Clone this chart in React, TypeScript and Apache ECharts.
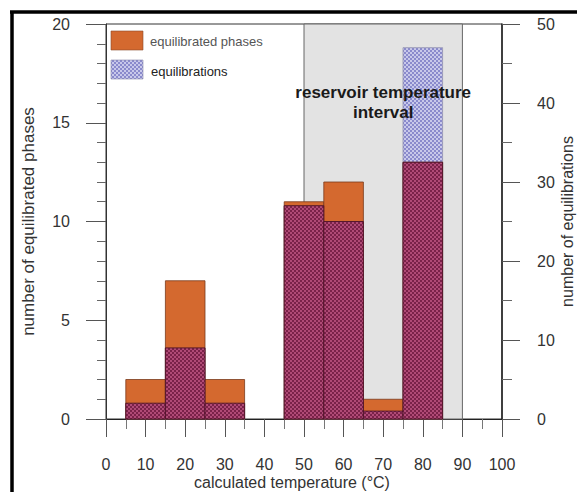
import React, { useEffect, useRef } from "react";
import * as echarts from "echarts";

// ---- data ----
const binCenters = [10, 20, 30, 50, 60, 70, 80];
const binWidth = 10;
const equilibratedPhases = [2, 7, 2, 11, 12, 1, 13];
const equilibrations = [2, 9, 2, 27, 25, 1, 47];
const xRange = [0, 100];
const xInterval = 10;
const leftRange = [0, 20];
const leftInterval = 5;
const rightRange = [0, 50];
const rightInterval = 10;
const reservoirInterval = [50, 90];
const seriesNames = ["equilibrated phases", "equilibrations"];
const reservoirLabel = "reservoir temperature\ninterval";
const xTitle = "calculated temperature (°C)";
const yLeftTitle = "number of equilibrated phases";
const yRightTitle = "number of equilibrations";

const FONT = "'Liberation Sans', Arial, Helvetica, sans-serif";
const ORANGE = "#d4692f";

function makePattern(light: string, dark: string) {
  const c = document.createElement("canvas");
  c.width = 4;
  c.height = 4;
  const ctx = c.getContext("2d")!;
  ctx.fillStyle = light;
  ctx.fillRect(0, 0, 4, 4);
  ctx.fillStyle = dark;
  ctx.fillRect(0, 0, 2, 2);
  ctx.fillRect(2, 2, 2, 2);
  return { image: c.toDataURL(), repeat: "repeat", imageWidth: 4, imageHeight: 4 } as any;
}

function makeRender(fill: any, stroke: string, lineWidth: number) {
  return (params: any, api: any) => {
    const c = api.value(0);
    const v = api.value(1);
    const p1 = api.coord([c - binWidth / 2, v]);
    const p0 = api.coord([c + binWidth / 2, 0]);
    return {
      type: "rect",
      shape: { x: p1[0], y: p1[1], width: p0[0] - p1[0], height: p0[1] - p1[1] },
      style: { fill, stroke, lineWidth },
    };
  };
}

export default function App() {
  const ref = useRef<HTMLDivElement>(null);
  useEffect(() => {
    if (!ref.current) return;
    const chart = echarts.init(ref.current, undefined, { renderer: "svg" });
    const bluePattern = makePattern("#c8c8ea", "#8a8acc");
    const maroonPattern = makePattern("#b04a76", "#7a2249");
    const scale = rightRange[1] / leftRange[1];

    const phasesData = binCenters.map((c, i) => [c, equilibratedPhases[i]]);
    const equilData = binCenters.map((c, i) => [c, equilibrations[i]]);
    const overlapData = binCenters.map((c, i) => [
      c,
      Math.min(equilibratedPhases[i] * scale, equilibrations[i]),
    ]);

    const tickLabel = { fontFamily: FONT, fontSize: 16, color: "#333", lineHeight: 17 };
    const nameStyle = { fontFamily: FONT, fontSize: 17, color: "#333" };
    const emptyRender = () => ({ type: "group", children: [] });

    const staticGraphics: any[] = [
      {
        id: "frameL",
        type: "line",
        shape: { x1: 12, y1: 11, x2: 12, y2: 492 },
        style: { stroke: "#000", lineWidth: 3.5 },
        z: 100,
      },
      {
        id: "frameT",
        type: "line",
        shape: { x1: 10, y1: 12, x2: 577, y2: 12 },
        style: { stroke: "#000", lineWidth: 3.5 },
        z: 100,
      },
      {
        id: "lg1",
        type: "rect",
        shape: { x: 111, y: 31, width: 32, height: 19 },
        style: { fill: ORANGE, stroke: "#8a4a2a", lineWidth: 0.6 },
        z: 100,
      },
      {
        id: "lt1",
        type: "text",
        x: 150,
        y: 41,
        style: {
          text: seriesNames[0],
          fontFamily: FONT,
          fontSize: 13,
          fill: "#555",
          verticalAlign: "middle",
        },
        z: 100,
      },
      {
        id: "lg2",
        type: "rect",
        shape: { x: 111, y: 60, width: 32, height: 19 },
        style: { fill: bluePattern, stroke: "#8888aa", lineWidth: 0.6 },
        z: 100,
      },
      {
        id: "lt2",
        type: "text",
        x: 151,
        y: 71,
        style: {
          text: seriesNames[1],
          fontFamily: FONT,
          fontSize: 13,
          fill: "#222",
          verticalAlign: "middle",
        },
        z: 100,
      },
    ];

    chart.setOption({
      animation: false,
      grid: {
        left: 106,
        top: 24,
        right: 75,
        bottom: 73,
        containLabel: false,
        outerBoundsMode: "none",
        show: true,
        borderColor: "#333",
        borderWidth: 1,
        backgroundColor: "transparent",
      },
      xAxis: {
        type: "value",
        min: xRange[0],
        max: xRange[1],
        interval: xInterval,
        name: xTitle,
        nameLocation: "middle",
        nameGap: 55,
        nameMoveOverlap: false,
        nameTextStyle: { ...nameStyle, fontSize: 16, lineHeight: 17, padding: [0, 24, 0, 0] },
        axisLine: { show: true, lineStyle: { color: "#222", width: 1 } },
        axisTick: { show: true, length: 18, lineStyle: { color: "#555" } },
        minorTick: { show: true, splitNumber: 2, length: 10, lineStyle: { color: "#777" } },
        axisLabel: { ...tickLabel, margin: 37 },
        splitLine: { show: false },
      },
      yAxis: [
        {
          type: "value",
          position: "left",
          min: leftRange[0],
          max: leftRange[1],
          interval: leftInterval,
          name: yLeftTitle,
          nameLocation: "middle",
          nameGap: 69,
          nameMoveOverlap: false,
          nameTextStyle: nameStyle,
          axisLine: { show: true, lineStyle: { color: "#333" } },
          axisTick: { show: true, length: 20, lineStyle: { color: "#555" } },
          minorTick: { show: true, splitNumber: 5, length: 9, lineStyle: { color: "#666" } },
          axisLabel: { ...tickLabel, margin: 36 },
          splitLine: { show: false },
        },
        {
          type: "value",
          position: "right",
          min: rightRange[0],
          max: rightRange[1],
          interval: rightInterval,
          name: yRightTitle,
          nameLocation: "middle",
          nameGap: 57,
          nameMoveOverlap: false,
          nameTextStyle: { ...nameStyle, fontSize: 16 },
          axisLine: { show: true, lineStyle: { color: "#222", width: 1.5 } },
          axisTick: { show: true, length: 18, lineStyle: { color: "#555" } },
          minorTick: { show: true, splitNumber: 2, length: 10, lineStyle: { color: "#666" } },
          axisLabel: { ...tickLabel, margin: 35 },
          splitLine: { show: false },
        },
      ],
      series: [
        {
          type: "custom",
          name: "interval",
          xAxisIndex: 0,
          yAxisIndex: 0,
          z: 1,
          data: [],
          renderItem: emptyRender,
          markArea: {
            silent: true,
            itemStyle: { color: "#e3e3e3", borderColor: "#666", borderWidth: 1 },
            label: { show: false },
            data: [[{ xAxis: reservoirInterval[0] }, { xAxis: reservoirInterval[1] }]],
          },
        },
        {
          type: "custom",
          name: seriesNames[1],
          xAxisIndex: 0,
          yAxisIndex: 1,
          z: 2,
          encode: { x: 0, y: 1 },
          data: equilData,
          renderItem: makeRender(bluePattern, "#9090b0", 0.8),
        },
        {
          type: "custom",
          name: seriesNames[0],
          xAxisIndex: 0,
          yAxisIndex: 0,
          z: 3,
          encode: { x: 0, y: 1 },
          data: phasesData,
          renderItem: makeRender(ORANGE, "#7a3a1c", 0.8),
        },
        {
          type: "custom",
          name: "overlap",
          xAxisIndex: 0,
          yAxisIndex: 1,
          z: 4,
          encode: { x: 0, y: 1 },
          data: overlapData,
          renderItem: makeRender(maroonPattern, "#4e1228", 0.9),
        },
      ],
      graphic: staticGraphics,
    });

    // reservoir label placed via the library's scales, drawn above the bars
    const cx = chart.convertToPixel({ xAxisIndex: 0 }, (reservoirInterval[0] + reservoirInterval[1]) / 2) as number;
    const topY = chart.convertToPixel({ yAxisIndex: 0 }, leftRange[1]) as number;
    chart.setOption({
      graphic: [
        ...staticGraphics,
        {
          id: "resLabel",
          type: "text",
          x: cx,
          y: topY + 58,
          z: 200,
          style: {
            text: reservoirLabel,
            fontFamily: FONT,
            fontSize: 17,
            fontWeight: "bold",
            fill: "#1a1a1a",
            lineHeight: 20,
            align: "center",
            verticalAlign: "top",
          },
        },
      ],
    });
    return () => chart.dispose();
  }, []);
  return (
    <div
      ref={ref}
      style={{ position: "fixed", left: 0, top: 0, width: 577, height: 492, background: "#fff" }}
    />
  );
}
